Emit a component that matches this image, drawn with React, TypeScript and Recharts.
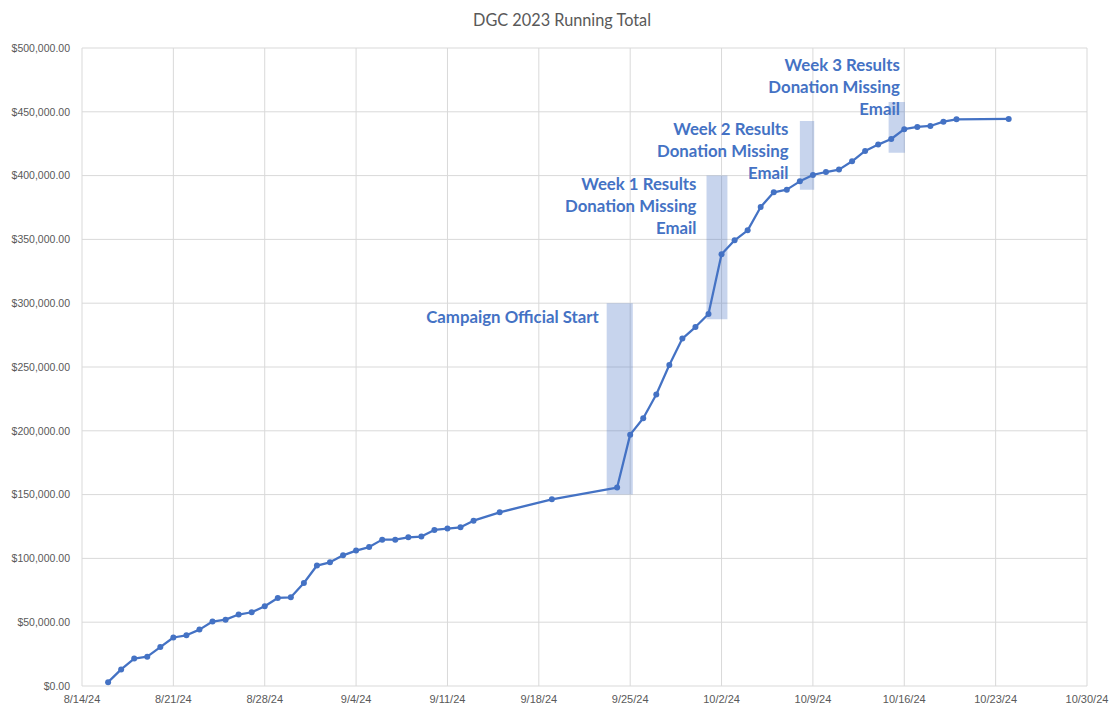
import React from 'react';
import { LineChart, Line, XAxis, YAxis, CartesianGrid, ReferenceArea, ReferenceDot } from 'recharts';

const dates = [
  '8/16/24', '8/17/24', '8/18/24', '8/19/24', '8/20/24', '8/21/24', '8/22/24', '8/23/24', '8/24/24', '8/25/24',
  '8/26/24', '8/27/24', '8/28/24', '8/29/24', '8/30/24', '8/31/24', '9/1/24', '9/2/24', '9/3/24', '9/4/24',
  '9/5/24', '9/6/24', '9/7/24', '9/8/24', '9/9/24', '9/10/24', '9/11/24', '9/12/24', '9/13/24', '9/15/24',
  '9/19/24', '9/24/24', '9/25/24', '9/26/24', '9/27/24', '9/28/24', '9/29/24', '9/30/24', '10/1/24', '10/2/24',
  '10/3/24', '10/4/24', '10/5/24', '10/6/24', '10/7/24', '10/8/24', '10/9/24', '10/10/24', '10/11/24', '10/12/24',
  '10/13/24', '10/14/24', '10/15/24', '10/16/24', '10/17/24', '10/18/24', '10/19/24', '10/20/24', '10/24/24',
];

const totals = [
  3000, 13000, 21500, 23000, 30500, 38000, 39700, 44200, 50500, 52000,
  56000, 57800, 62500, 69000, 69500, 80700, 94400, 96900, 102400, 106100,
  108900, 114700, 114700, 116500, 117100, 122300, 123400, 124400, 129600, 136100,
  146300, 155500, 197000, 209800, 228400, 251600, 272300, 281300, 291500, 338300,
  349300, 357100, 375400, 386900, 389000, 395500, 400500, 402800, 404700, 411200,
  419300, 424300, 428700, 436400, 438100, 438900, 442300, 444100, 444400,
];

const xTickLabels = ['8/14/24', '8/21/24', '8/28/24', '9/4/24', '9/11/24', '9/18/24', '9/25/24', '10/2/24', '10/9/24', '10/16/24', '10/23/24', '10/30/24'];
const yTicks = [0, 50000, 100000, 150000, 200000, 250000, 300000, 350000, 400000, 450000, 500000];

// shaded highlight bands (days since 8/14/24, dollar range)
const bandStart = [40.2, 47.85, 55.0, 61.8];
const bandEnd = [42.2, 49.45, 56.1, 63.05];
const bandLow = [150000, 287500, 389000, 418000];
const bandHigh = [300000, 400000, 442800, 457700];

// annotation text anchors (right edge day, first baseline value)
const noteDay = [39.6, 47.08, 54.13, 62.66];
const noteValue = [284800, 388500, 432100, 482000];
const noteLines = [
  ['Campaign Official Start'],
  ['Week 1 Results', 'Donation Missing', 'Email'],
  ['Week 2 Results', 'Donation Missing', 'Email'],
  ['Week 3 Results', 'Donation Missing', 'Email'],
];

const title = 'DGC 2023 Running Total';

const BASE = Date.UTC(2024, 7, 14);
const toDay = (s: string) => {
  const [m, d, y] = s.split('/').map(Number);
  return Math.round((Date.UTC(2000 + y, m - 1, d) - BASE) / 86400000);
};

const data = dates.map((d, i) => ({ day: toDay(d), total: totals[i] }));
const xTicks = xTickLabels.map(toDay);

const fmtX = (v: number) => {
  const i = xTicks.indexOf(v);
  return i >= 0 ? xTickLabels[i] : '';
};
const fmtY = (v: number) =>
  '$' + v.toLocaleString('en-US', { minimumFractionDigits: 2, maximumFractionDigits: 2 });

const BLUE = '#4472C4';

const makeNote = (lines: string[]) => (props: any) => {
  const vb = props.viewBox || {};
  const x = (vb.x || 0) + (vb.width || 0) / 2;
  const y = (vb.y || 0) + (vb.height || 0) / 2;
  return (
    <text x={x} y={y} textAnchor="end" fontFamily="Lato" fontWeight="bold" fontSize={16.8} fill={BLUE}>
      {lines.map((l, i) => (
        <tspan key={i} x={x} dy={i === 0 ? 0 : 22}>
          {l}
        </tspan>
      ))}
    </text>
  );
};

export default function App() {
  return (
    <div style={{ position: 'absolute', left: 0, top: 0, width: 1119, height: 709, background: '#fff' }}>
      <LineChart
        width={1119}
        height={709}
        data={data}
        margin={{ top: 48, right: 32, bottom: 0, left: 0 }}
      >
        <CartesianGrid stroke="#D9D9D9" strokeWidth={1} />
        <XAxis
          dataKey="day"
          type="number"
          domain={[0, 77]}
          ticks={xTicks}
          tickFormatter={fmtX}
          interval={0}
          height={23}
          axisLine={false}
          tickLine={false}
          tickSize={6}
          tickMargin={3}
          tick={{ fill: '#595959', fontSize: 11, fontFamily: 'Liberation Sans' }}
        />
        <YAxis
          type="number"
          domain={[0, 500000]}
          ticks={yTicks}
          tickFormatter={fmtY}
          interval={0}
          width={82}
          axisLine={false}
          tickLine={false}
          tickSize={6}
          tickMargin={6}
          tick={{ fill: '#595959', fontSize: 10.5, fontFamily: 'Liberation Sans' }}
        />
        {bandStart.map((s, i) => (
          <ReferenceArea
            key={'band' + i}
            x1={s}
            x2={bandEnd[i]}
            y1={bandLow[i]}
            y2={bandHigh[i]}
            fill={BLUE}
            fillOpacity={0.3}
            stroke="none"
          />
        ))}
        {noteDay.map((d, i) => (
          <ReferenceDot
            key={'note' + i}
            x={d}
            y={noteValue[i]}
            r={0}
            fill="none"
            stroke="none"
            label={makeNote(noteLines[i])}
          />
        ))}
        <Line
          type="linear"
          dataKey="total"
          stroke={BLUE}
          strokeWidth={2.25}
          strokeLinejoin="round"
          dot={{ r: 3, fill: BLUE, stroke: BLUE, strokeWidth: 0 }}
          activeDot={false}
          isAnimationActive={false}
        />
      </LineChart>
      <svg width={1119} height={40} style={{ position: 'absolute', left: 0, top: 0, pointerEvents: 'none' }}>
        <text x={562} y={26} textAnchor="middle" fontFamily="Lato" fontSize={16.3} fill="#595959">
          {title}
        </text>
      </svg>
    </div>
  );
}
